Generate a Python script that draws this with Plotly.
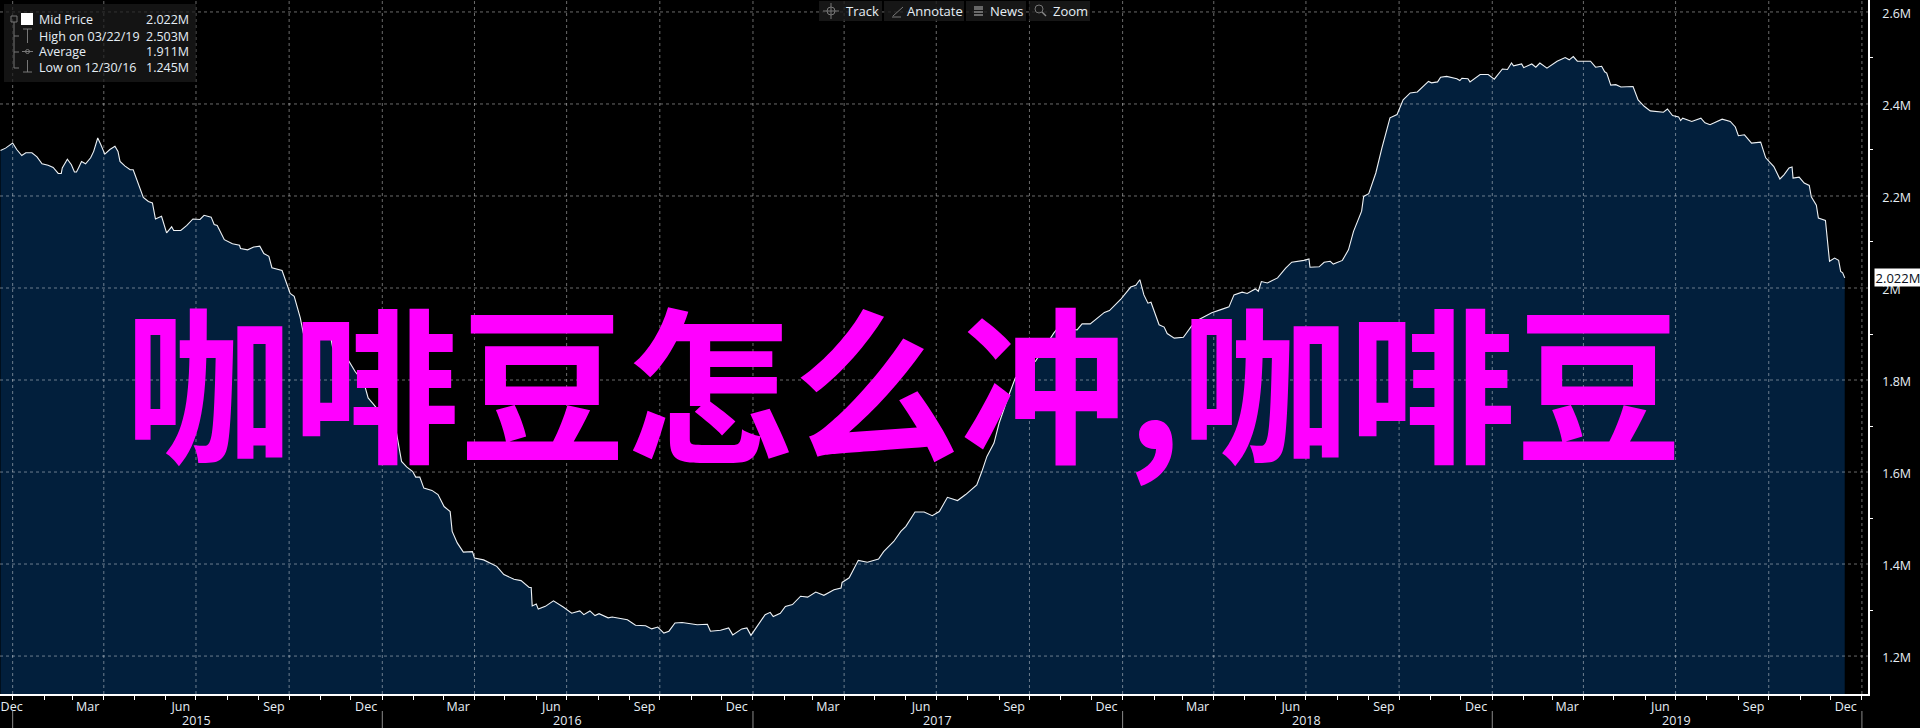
import datetime as dt
import plotly.graph_objects as go

# Data
days_since_2015 = [-12,-7,0,4,9,13,19,24,29,35,40,45,48,49,54,58,61,63,65,68,72,77,80,84,87,91,96,101,104,106,111,116,119,123,129,134,138,141,147,152,157,159,166,172,178,185,189,196,199,202,209,217,224,225,232,238,244,248,253,256,266,274,278,284,287,
 305,314,316,332,338,347,351,356,379,384,389,395,398,402,406,414,420,426,432,434,439,445,454,456,465,478,485,495,502,510,512,513,517,519,526,534,544,552,560,564,570,575,579,588,592,607,615,625,631,637,643,648,654,661,676,686,689,699,707,711,720,725,729,735,743,748,751,758,
 763,770,778,785,793,801,811,818,819,826,835,844,855,860,870,877,882,891,900,908,915,923,933,941,952,957,962,969,974,982,990,1000,1010,1028,1032,1051,1056,1064,1078,1083,1094,1104,1109,1113,1117,1121,1124,1132,1137,1140,1147,1156,1164,
 1170,1178,1184,1193,1201,1206,1214,1219,1227,1230,1233,1239,1249,1257,1263,1275,1280,1281,1290,1295,1301,1304,1313,1319,
 1321,1324,1332,1334,1339,1346,1352,1360,1367,1373,1380,1387,1398,1401,1407,1410,1416,1426,1429,1431,1437,1439,1449,1457,1463,1471,1476,1480,1482,1490,1492,1500,1504,1508,1515,1525,1533,1537,1541,1545,1558,1563,1569,1572,1574,1578,1583,1588,1600,1605,1611,1617,1630,1634,
 1639,1645,1647,1649,1658,1667,1671,1676,1688,1696,1701,1704,1710,1717,1726,1731,1739,1745,1749,1754,1757,1758,1764,1769,1774,1776,1781,1783,1790,1794,1799,1803,1805,1807,1809]
mid_price_m = [2.299,2.304,2.315,2.301,2.288,2.294,2.294,2.285,2.270,2.267,2.262,2.249,2.249,2.261,2.280,2.268,2.252,2.252,2.261,2.275,2.270,2.283,2.297,2.326,2.312,2.291,2.301,2.308,2.297,2.275,2.265,2.257,2.257,2.232,2.197,2.188,2.185,2.150,2.156,2.120,2.133,2.125,2.125,2.136,2.150,2.149,2.158,2.154,2.138,2.136,2.105,2.096,2.093,2.086,2.083,2.089,2.091,2.075,2.069,2.044,2.038,1.988,1.982,1.935,1.902,
 1.891,1.893,1.870,1.841,1.819,1.793,1.761,1.748,1.685,1.623,1.611,1.601,1.589,1.589,1.565,1.560,1.551,1.525,1.514,1.471,1.446,1.426,1.427,1.413,1.409,1.395,1.377,1.367,1.364,1.349,1.349,1.309,1.313,1.302,1.308,1.320,1.306,1.293,1.298,1.290,1.298,1.288,1.292,1.283,1.285,1.279,1.267,1.266,1.259,1.263,1.250,1.254,1.272,1.273,1.268,1.269,1.254,1.256,1.261,1.246,1.259,1.261,1.245,1.264,1.290,1.295,1.286,1.293,
 1.308,1.312,1.330,1.328,1.339,1.332,1.344,1.348,1.360,1.370,1.408,1.404,1.411,1.427,1.449,1.471,1.482,1.513,1.513,1.505,1.514,1.545,1.538,1.551,1.572,1.601,1.634,1.663,1.706,1.757,1.804,1.826,1.841,1.902,1.913,1.909,1.922,1.922,1.947,1.951,1.975,2.002,2.006,2.018,1.985,1.967,1.969,1.920,1.915,1.901,1.891,1.893,1.917,
 1.930,1.940,1.946,1.953,1.959,1.985,1.991,1.988,1.998,1.993,2.014,2.011,2.022,2.043,2.056,2.060,2.063,2.045,2.046,2.056,2.058,2.052,2.060,2.083,
 2.098,2.123,2.167,2.199,2.205,2.250,2.304,2.370,2.377,2.409,2.424,2.426,2.449,2.446,2.448,2.458,2.460,2.455,2.451,2.456,2.455,2.448,2.464,2.464,2.454,2.476,2.475,2.489,2.483,2.487,2.479,2.487,2.480,2.489,2.478,2.493,2.501,2.496,2.503,2.493,2.493,2.480,2.482,2.470,2.467,2.441,2.442,2.437,2.438,2.409,2.395,2.385,2.382,2.389,
 2.375,2.372,2.364,2.369,2.362,2.369,2.359,2.355,2.367,2.362,2.350,2.331,2.333,2.315,2.317,2.283,2.264,2.237,2.246,2.261,2.263,2.239,2.241,2.228,2.223,2.198,2.180,2.152,2.147,2.058,2.065,2.060,2.036,2.033,2.022]

y_major = [1.2, 1.4, 1.6, 1.8, 2.0, 2.2, 2.4, 2.6]
y_major_labels = ["1.2M", "1.4M", "1.6M", "1.8M", "2M", "2.2M", "2.4M", "2.6M"]
y_minor = [1.3, 1.5, 1.7, 1.9, 2.1, 2.3, 2.5]
month_labels = ["Dec", "Mar", "Jun", "Sep"]
years = [2015, 2016, 2017, 2018, 2019]
legend_rows = [("Mid Price", "2.022M"), ("High on 03/22/19", "2.503M"), ("Average", "1.911M"), ("Low on 12/30/16", "1.245M")]
toolbar_items = ["Track", "Annotate", "News", "Zoom"]
title_text = "咖啡豆怎么冲,咖啡豆"
last_value = 2.022

W, H = 1920, 728
PW, PH = 1868, 694
base = dt.date(2015, 1, 1)
dates = [base + dt.timedelta(days=d) for d in days_since_2015]
x_range = ["2014-12-19 12:00", "2020-01-07"]
y_range = [1.1175, 2.626]
FONT = "Open Sans, Liberation Sans, sans-serif"
TXT = "#e6eef5"

def X(p): return p / PW
def Y(p): return 1 - p / PH

month_starts = [dt.date(y, m, 1) for y in range(2015, 2020) for m in range(1, 13)] + [dt.date(2020, 1, 1)]
quarter_starts = [d for d in month_starts if d.month in (1, 4, 7, 10)]
tick_pos, tick_text = ["2014-12-31"], ["Dec"]
for y in years:
    for m, lab in ((3, "Mar"), (6, "Jun"), (9, "Sep"), (12, "Dec")):
        tick_pos.append(dt.date(y, m, 16))
        tick_text.append(lab)

shapes, ann = [], []
grid = dict(color="rgba(255,255,255,0.42)", width=1, dash="3px,3px")
for d in quarter_starts:
    shapes.append(dict(type="line", xref="x", yref="paper", x0=d, x1=d, y0=0, y1=1, line=grid, layer="above"))
for v in y_major:
    shapes.append(dict(type="line", xref="paper", yref="y", x0=0, x1=1, y0=v, y1=v, line=grid, layer="above"))

# year row
for y in years + [2020]:
    d = dt.date(y, 1, 1)
    shapes.append(dict(type="line", xref="x", yref="paper", x0=d, x1=d, y0=Y(711), y1=Y(728),
                       line=dict(color="#8a8a8a", width=1)))
for y in years:
    ann.append(dict(text=str(y), xref="x", yref="paper", x=dt.date(y, 7, 2), y=Y(720.5), showarrow=False,
                    yanchor="middle", font=dict(family=FONT, size=12.5, color=TXT)))

def rect(x0, y0, x1, y1, fill, line=None):
    shapes.append(dict(type="rect", xref="paper", yref="paper", x0=X(x0), x1=X(x1), y0=Y(y0), y1=Y(y1),
                       fillcolor=fill, line=dict(width=1, color=line) if line else dict(width=0), layer="above"))
def seg(x0, y0, x1, y1, c="#777777", w=1):
    shapes.append(dict(type="line", xref="paper", yref="paper", x0=X(x0), x1=X(x1), y0=Y(y0), y1=Y(y1),
                       line=dict(color=c, width=w), layer="above"))
def circ(cx, cy, r, c="#777777"):
    shapes.append(dict(type="circle", xref="paper", yref="paper", x0=X(cx-r), x1=X(cx+r), y0=Y(cy-r), y1=Y(cy+r),
                       line=dict(color=c, width=1), layer="above"))
def label(t, x, y, anchor="left", size=12.5, color=TXT):
    ann.append(dict(text=t, xref="paper", yref="paper", x=X(x), y=Y(y), xanchor=anchor, yanchor="middle",
                    showarrow=False, font=dict(family=FONT, size=size, color=color)))

# legend panel
rect(4, 4, 196, 82, "rgba(28,28,28,0.72)")
rect(21, 13, 33, 25, "#ffffff")
rect(11, 16, 17, 22, "rgba(0,0,0,0)", "#777777")
seg(14, 22, 14, 68)
for yy in (36, 52, 68):
    seg(14, yy, 19, yy)
seg(23, 29, 32, 29); seg(27.5, 29, 27.5, 43)
seg(22, 51.5, 33, 51.5); circ(27.5, 51.5, 2)
seg(23, 72, 32, 72); seg(27.5, 60, 27.5, 72)
for i, (name, val) in enumerate(legend_rows):
    yy = 20 + 16 * i
    label(name, 37, yy)
    label(val, 191, yy, "right")

# toolbar
for (x0, x1), name, cx in zip([(819, 882), (884, 964), (966, 1026), (1029, 1090)], toolbar_items, [862, 935, 1007, 1070]):
    rect(x0, 1, x1, 21, "rgba(28,28,28,0.8)")
    label(name, cx, 11, "center", 13)
circ(831, 11, 4); seg(823, 11, 839, 11); seg(831, 3, 831, 19)
seg(893, 16, 903, 7); seg(892, 17, 901, 17)
rect(974, 6, 983, 10, "#666666")
for yy in (12, 15):
    seg(974, yy, 983, yy, "#888888", 1.5)
circ(1039, 9, 4); seg(1042, 12, 1046, 16, "#888888", 1.5)

# last value tag
ann.append(dict(text=f"{last_value:.3f}M", xref="paper", yref="y", x=X(1874), y=last_value, xanchor="left",
                yanchor="middle", showarrow=False, bgcolor="#ffffff", width=46, height=17, borderpad=0,
                font=dict(family=FONT, size=13, color="#0a1020")))

# overlaid title
ann.append(dict(text=title_text, xref="paper", yref="paper", x=X(903), y=Y(377), xanchor="center", yanchor="middle",
                showarrow=False, font=dict(family="Noto Sans CJK SC", size=167, color="#ff00ff", weight="bold")))

fig = go.Figure()
fig.add_trace(go.Scatter(x=dates, y=mid_price_m, mode="lines", fill="tozeroy", fillcolor="#021f3c",
                         line=dict(color="#eef2f5", width=1.1), hoverinfo="skip"))
fig.add_trace(go.Scatter(x=["2020-01-12"] * len(y_major), y=y_major, mode="markers", cliponaxis=False,
                         marker=dict(symbol="triangle-right", size=7, color="#ffffff"), hoverinfo="skip"))
fig.add_trace(go.Scatter(x=["2020-01-11"], y=[last_value], mode="markers", cliponaxis=False,
                         marker=dict(symbol="triangle-left", size=14, color="#ffffff"), hoverinfo="skip"))

fig.update_layout(
    width=W, height=H, margin=dict(l=0, r=W - PW, t=0, b=H - PH),
    paper_bgcolor="#000000", plot_bgcolor="#000000", showlegend=False,
    shapes=shapes, annotations=ann,
    xaxis=dict(type="date", range=x_range, tickmode="array", tickvals=tick_pos, ticktext=tick_text, ticklen=0,
               ticks="", showgrid=False, zeroline=False, showline=True, linecolor="#ffffff", linewidth=1.5,
               tickfont=dict(family=FONT, size=12.5, color=TXT), automargin=False,
               minor=dict(tickmode="array", tickvals=month_starts, ticks="outside", ticklen=4, tickcolor="#ffffff",
                          tickwidth=1, showgrid=False)),
    yaxis=dict(side="right", range=y_range, tickmode="array", tickvals=y_major, ticktext=y_major_labels, ticks="",
               ticklabelstandoff=10, ticklabelshift=2, showgrid=False, zeroline=False, showline=True,
               linecolor="#ffffff", linewidth=1.5, tickfont=dict(family=FONT, size=12.5, color=TXT), automargin=False,
               minor=dict(tickmode="array", tickvals=y_minor, ticks="outside", ticklen=3, tickcolor="#ffffff",
                          tickwidth=1, showgrid=False)),
)
fig.write_html("out.html", config=dict(displayModeBar=False),
               post_script="document.body.style.margin='0';document.body.style.background='#000';")
